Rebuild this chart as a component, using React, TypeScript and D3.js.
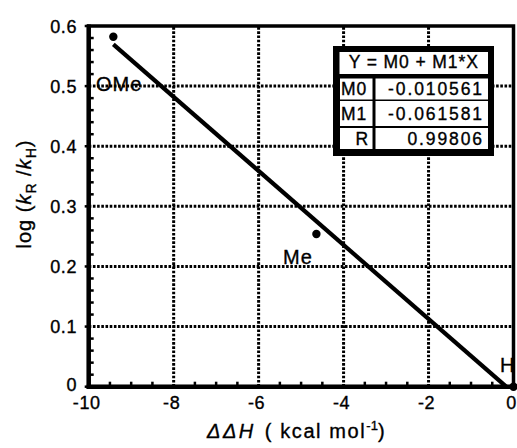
import React from "react";
import * as d3 from "d3";

const W = 517;
const H = 448;

// data points: ΔΔH (kcal/mol), log(kR/kH)
const pointX = [-9.42, -4.64, 0];
const pointY = [0.582, 0.254, 0];
const pointLabels = ["OMe", "Me", "H"];

// regression
const fitM0 = -0.010561;
const fitM1 = -0.061581;
const tableLabels = ["M0", "M1", "R"];
const tableValues = ["-0.010561", "-0.061581", "0.99806"];
const tableEquation = "Y = M0 + M1*X";

const xTicks = [-10, -8, -6, -4, -2, 0];
const yTicks = [0, 0.1, 0.2, 0.3, 0.4, 0.5, 0.6];
const yTickLabels = ["0", "0.1", "0.2", "0.3", "0.4", "0.5", "0.6"];

const FONT = "'Liberation Sans', Arial, Helvetica, sans-serif";
const TS = { stroke: "#000", strokeWidth: 0.35 };

export default function App() {
  const x = d3.scaleLinear().domain([-10, 0]).range([88.7, 513.5]);
  const y = d3.scaleLinear().domain([0, 0.6]).range([386.7, 26]);

  const xMinor = d3.range(-10, 0.001, 0.5).filter((v) => Math.abs(v - Math.round(v / 2) * 2) > 1e-6);
  const yMinor = d3.range(0, 0.6001, 0.02).filter((v) => Math.abs(v * 10 - Math.round(v * 10)) > 1e-6);

  const xStart = d3.min(pointX) as number;
  const xEnd = -fitM0 / fitM1;
  const fitLine = d3
    .line<number>()
    .x((d) => x(d))
    .y((d) => y(fitM0 + fitM1 * d));

  const labelPos = [
    { px: 96, py: 91 },
    { px: 283, py: 264 },
    { px: 500, py: 372 },
  ];

  const rowsY = [
    [78.5, 99.5],
    [101, 126],
    [128, 149],
  ];
  const baselines = [94.5, 119.5, 144.5];

  return (
    <svg
      width={W}
      height={H}
      style={{ position: "absolute", left: 0, top: 0, background: "#fff" }}
      fontFamily={FONT}
    >
      <rect x={0} y={0} width={W} height={H} fill="#fff" />
      {/* grid */}
      {yTicks.slice(1, -1).map((t) => (
        <line
          key={"gy" + t}
          x1={x(-10)}
          x2={x(0)}
          y1={y(t)}
          y2={y(t)}
          stroke="#000"
          strokeWidth={3}
          strokeDasharray="2.6,1.6"
        />
      ))}
      {xTicks.slice(1, -1).map((t) => (
        <line
          key={"gx" + t}
          x1={x(t)}
          x2={x(t)}
          y1={y(0)}
          y2={y(0.6)}
          stroke="#000"
          strokeWidth={3}
          strokeDasharray="2.6,1.6"
        />
      ))}
      {/* minor ticks */}
      {yMinor.map((t) => (
        <line key={"my" + t} x1={x(-10)} x2={x(-10) + 5} y1={y(t)} y2={y(t)} stroke="#000" strokeWidth={2.5} />
      ))}
      {xMinor.map((t) => (
        <line key={"mx" + t} x1={x(t)} x2={x(t)} y1={y(0)} y2={y(0) - 5} stroke="#000" strokeWidth={2.5} />
      ))}
      {/* major ticks outward */}
      {yTicks.map((t) => (
        <line key={"ty" + t} x1={x(-10) - 4} x2={x(-10)} y1={y(t)} y2={y(t)} stroke="#000" strokeWidth={2.5} />
      ))}
      {/* frame */}
      <rect
        x={x(-10)}
        y={y(0.6)}
        width={x(0) - x(-10)}
        height={y(0) - y(0.6)}
        fill="none"
        stroke="#000"
        strokeWidth={3.5}
      />
      <line x1={x(-10)} x2={x(-10)} y1={y(0.6) - 1.5} y2={y(0) + 2} stroke="#000" strokeWidth={4.5} />
      <line x1={x(-10) - 2} x2={x(0) + 1.5} y1={y(0)} y2={y(0)} stroke="#000" strokeWidth={4.5} />
      {/* fit line */}
      <path d={fitLine([xStart, xEnd]) || ""} fill="none" stroke="#000" strokeWidth={4.2} />
      {/* points */}
      {pointX.map((px, i) => (
        <circle key={"p" + i} cx={x(px)} cy={y(pointY[i])} r={4.2} fill="#000" />
      ))}
      {pointLabels.map((lab, i) => (
        <text
          key={"l" + i}
          x={labelPos[i].px}
          y={labelPos[i].py}
          fontSize={20}
          letterSpacing={lab === "H" ? 0 : 1}
          fill="#000"
          {...TS}
        >
          {lab}
        </text>
      ))}
      {/* tick labels */}
      {yTicks.map((t, i) => (
        <text
          key={"yl" + t}
          x={77}
          y={y(t) + (i === 0 ? 4.5 : 6.5)}
          fontSize={18}
          textAnchor="end"
          letterSpacing={0.6}
          fill="#000"
          {...TS}
        >
          {yTickLabels[i]}
        </text>
      ))}
      {xTicks.map((t) => (
        <text key={"xl" + t} x={x(t) - 2} y={409} fontSize={18} textAnchor="middle" letterSpacing={0.6} fill="#000" {...TS}>
          {String(t)}
        </text>
      ))}
      {/* axis titles */}
      <text x={207} y={438} fontSize={20} fill="#000" {...TS}>
        <tspan fontStyle="italic" letterSpacing={2.5}>ΔΔH</tspan>
        <tspan dx={9} letterSpacing={1.6}>( kcal mol</tspan>
        <tspan dy={-8} fontSize={13}>-1</tspan>
        <tspan dy={8} letterSpacing={1}>)</tspan>
      </text>
      <text transform="translate(31,194) rotate(-90)" textAnchor="middle" fontSize={20} fill="#000" letterSpacing={1} {...TS}>
        <tspan>log (</tspan>
        <tspan fontStyle="italic">k</tspan>
        <tspan fontSize={14} dy={5}>R</tspan>
        <tspan dy={-5}> /</tspan>
        <tspan fontStyle="italic">k</tspan>
        <tspan fontSize={14} dy={5}>H</tspan>
        <tspan dy={-5}>)</tspan>
      </text>
      {/* regression table */}
      <g>
        <rect x={333} y={46} width={161} height={110} fill="#000" />
        <rect x={339.5} y={52} width={148.5} height={22} fill="#fff" />
        {rowsY.map(([a, b], i) => (
          <g key={"row" + i}>
            <rect x={340} y={a} width={32.5} height={b - a} fill="#fff" />
            <rect x={375.5} y={a} width={112.5} height={b - a} fill="#fff" />
          </g>
        ))}
        <text x={413.7} y={68.3} fontSize={17.5} textAnchor="middle" letterSpacing={0.9} fill="#000" {...TS}>
          {tableEquation}
        </text>
        {tableLabels.map((lab, i) => (
          <text
            key={"tl" + i}
            x={lab === "R" ? 369 : 341}
            y={baselines[i]}
            fontSize={17.5}
            textAnchor={lab === "R" ? "end" : "start"}
            letterSpacing={0.8}
            fill="#000"
            {...TS}
          >
            {lab}
          </text>
        ))}
        {tableValues.map((v, i) => (
          <text key={"tv" + i} x={484} y={baselines[i]} fontSize={17.5} textAnchor="end" letterSpacing={1.9} fill="#000" {...TS}>
            {v}
          </text>
        ))}
      </g>
    </svg>
  );
}
